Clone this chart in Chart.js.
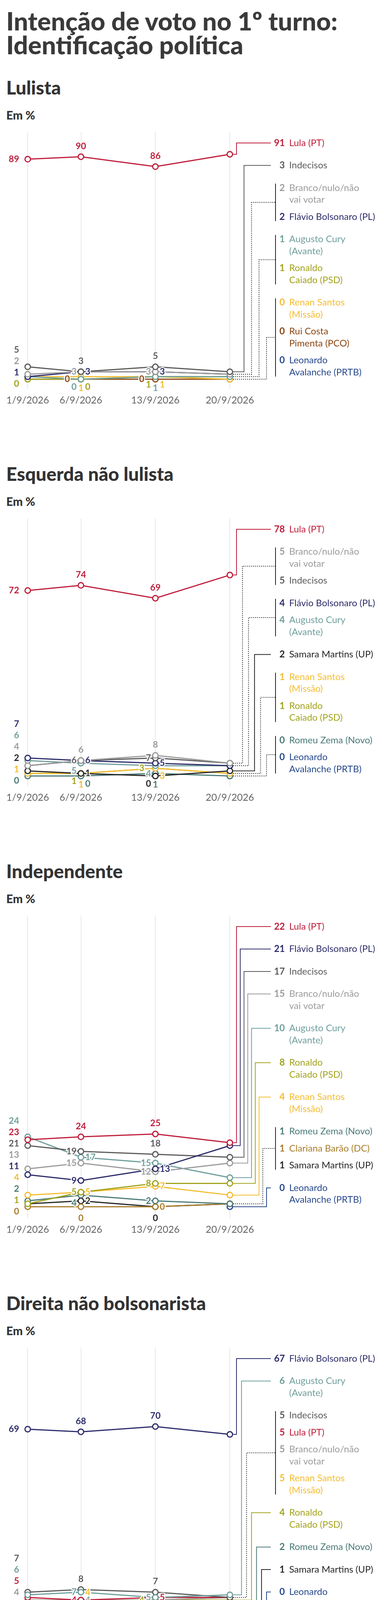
<!DOCTYPE html>
<html lang="pt-BR">
<head>
<meta charset="utf-8">
<title>Intenção de voto no 1º turno: Identificação política</title>
<script src="https://cdn.jsdelivr.net/npm/chart.js@4.4.1/dist/chart.umd.min.js"></script>
<style>
html,body{margin:0;padding:0;background:#fff;}
body{width:984px;font-family:Lato,'Noto Sans',sans-serif;color:#333;}
#title{margin:23px 0 0 16px;font-weight:900;font-size:65px;line-height:61px;color:#3a3a3a;}
.sec h2{margin:0 0 0 16px;font-weight:900;font-size:48px;line-height:50px;color:#333;}
.sec .em{margin:28px 0 0 16px;font-weight:900;font-size:30px;line-height:34px;color:#333;}
.sec canvas{display:block;margin-top:17px;}
#s0{margin-top:54px;}
.sec + .sec{margin-top:134px;}
#note{margin:116px 0 0 16px;font-size:28px;line-height:36.5px;color:#777;}
#band{margin-top:32px;height:115px;background:#f2f2f2;position:relative;}
#logo{position:absolute;left:14px;top:4px;font-weight:900;font-size:70px;line-height:90px;color:#c4170c;letter-spacing:-4px;}
.src{position:absolute;left:97px;font-size:31px;line-height:40px;color:#888;}
.src b{color:#666;font-weight:700;}
#src1{top:15px;}
#src2{top:59px;}
</style>
</head>
<body>
<div id="title">Intenção de voto no 1º turno:<br>Identificação política</div>
<div id="charts"></div>
<div id="note">Pesquisa realizada entre os dias 17 e 20 de setembro. A margem<br>de erro é de 5 pontos percentuais para lulista, de 6 pontos para<br>esquerda não lulista, de 4 pontos para independente, de 5 pontos<br>para direita não bolsonarista, e de 6 pontos para bolsonarista.</div>
<div id="band">
  <div id="logo">g1</div>
  <div class="src" id="src1"><b>Fonte:</b> Quaest</div>
  <div class="src" id="src2"><b>Infográfico elaborado em:</b> 21/09/2026</div>
</div>
<script>
// ---------- DATA ----------
const dates = ['1/9/2026', '6/9/2026', '13/9/2026', '20/9/2026'];
const days = [1, 6, 13, 20];

const lulistaNames = ['Lula', 'Indecisos', 'Branco', 'Flavio', 'Augusto', 'Ronaldo', 'Renan', 'Rui', 'Leonardo'];
const lulistaValues = [
  [89, 90, 86, 91],
  [5, 3, 5, 3],
  [2, 3, 3, 2],
  [1, 3, 3, 2],
  [1, 0, 1, 1],
  [0, 0, 1, 1],
  [1, 1, 1, 0],
  [0, 0, 0, 0],
  [null, null, null, 0]
];

const esquerdaNames = ['Lula', 'Branco', 'Indecisos', 'Flavio', 'Augusto', 'Samara', 'Renan', 'Ronaldo', 'Romeu', 'Leonardo'];
const esquerdaValues = [
  [72, 74, 69, 78],
  [4, 6, 8, 5],
  [4, 6, 7, 5],
  [7, 6, 5, 4],
  [6, 5, 4, 4],
  [2, 1, 0, 2],
  [1, 1, 3, 1],
  [1, 1, 3, 1],
  [0, 0, 1, 0],
  [null, null, null, 0]
];

const independenteNames = ['Lula', 'Flavio', 'Indecisos', 'Branco', 'Augusto', 'Ronaldo', 'Renan', 'Romeu', 'Clariana', 'Samara', 'Leonardo'];
const independenteValues = [
  [23, 24, 25, 22],
  [11, 9, 13, 21],
  [21, 19, 18, 17],
  [13, 15, 12, 15],
  [24, 17, 15, 10],
  [1, 5, 8, 8],
  [4, 5, 7, 4],
  [2, 4, 2, 1],
  [0, 0, 0, 1],
  [1, 2, 0, 1],
  [null, null, null, 0]
];

const direitaNames = ['Flavio', 'Augusto', 'Indecisos', 'Lula', 'Branco', 'Renan', 'Ronaldo', 'Romeu', 'Samara', 'Leonardo'];
const direitaValues = [
  [69, 68, 70, 67],
  [6, 7, 5, 6],
  [7, 8, 7, 5],
  [5, 4, 5, 5],
  [4, 4, 4, 5],
  [4, 4, 4, 5],
  [2, 3, 4, 4],
  [2, 1, 1, 2],
  [0, 0, 0, 1],
  [null, null, null, 0]
];

const bolsonaristaNames = ['Flavio', 'Branco', 'Lula', 'Augusto', 'Indecisos', 'Ronaldo', 'Renan', 'Romeu', 'Samara', 'Wilson', 'Leonardo'];
const bolsonaristaValues = [
  [85, 90, 90, 90],
  [2, 1, 4, 3],
  [2, 2, 1, 3],
  [0, 1, 0, 2],
  [1, 4, 3, 1],
  [1, 0, 1, 1],
  [5, 1, 1, 0],
  [0, 1, 0, 0],
  [1, 0, 0, 0],
  [null, 0, 0, 0],
  [null, null, null, 0]
];

const sectionTitles = ['Lulista', 'Esquerda não lulista', 'Independente', 'Direita não bolsonarista', 'Bolsonarista'];

const candidateText = {
  Lula: ['Lula (PT)'],
  Indecisos: ['Indecisos'],
  Branco: ['Branco/nulo/não', 'vai votar'],
  Flavio: ['Flávio Bolsonaro (PL)'],
  Augusto: ['Augusto Cury', '(Avante)'],
  Ronaldo: ['Ronaldo', 'Caiado (PSD)'],
  Renan: ['Renan Santos', '(Missão)'],
  Rui: ['Rui Costa', 'Pimenta (PCO)'],
  Leonardo: ['Leonardo', 'Avalanche (PRTB)'],
  Samara: ['Samara Martins (UP)'],
  Romeu: ['Romeu Zema (Novo)'],
  Clariana: ['Clariana Barão (DC)'],
  Wilson: ['Wilson Grassi', '(Democrata)']
};

// ---------- STYLE ----------
const candidateColors = {
  Lula: '#bf1e3b',
  Flavio: '#2d2c6b',
  Indecisos: '#5b5b5b',
  Branco: '#9b9b9b',
  Augusto: '#6f9f9c',
  Ronaldo: '#a2a31c',
  Renan: '#f4bd31',
  Rui: '#8b4611',
  Leonardo: '#27498c',
  Samara: '#262626',
  Romeu: '#4a7b77',
  Clariana: '#a97d2c',
  Wilson: '#3e9f69'
};

const FONT = 'Lato';
const LH = 30.5, GAP_SEP = 57.5, GAP_IN = 43.5;
const COL_X_MIN = 606, COL_X_MAX = 683;
const NUM_X = 730, TXT_X = 741, BAR_X = 706, SOLID_END_X = 694;
const PAD_TOP = 10, AXIS_H = 44, Y_MIN = -4;

const sections = [
  { title: sectionTitles[0], names: lulistaNames, values: lulistaValues },
  { title: sectionTitles[1], names: esquerdaNames, values: esquerdaValues },
  { title: sectionTitles[2], names: independenteNames, values: independenteValues },
  { title: sectionTitles[3], names: direitaNames, values: direitaValues },
  { title: sectionTitles[4], names: bolsonaristaNames, values: bolsonaristaValues }
];

function layoutColumn(names, values) {
  const groups = [];
  names.forEach((n, i) => {
    const v = values[i][values[i].length - 1];
    const g = groups[groups.length - 1];
    if (g && g.value === v) g.items.push({ n, i });
    else groups.push({ value: v, items: [{ n, i }] });
  });
  let y = 0, prevLines = 1, first = true;
  groups.forEach(g => {
    g.items.forEach((it, k) => {
      const lines = candidateText[it.n].length;
      if (!first) y += (prevLines - 1) * LH + (k === 0 ? GAP_SEP : GAP_IN);
      first = false;
      it.y = y; it.lines = lines; prevLines = lines;
    });
    const last = g.items[g.items.length - 1];
    g.top = g.items[0].y - 11;
    g.bottom = last.y + (last.lines - 1) * LH + 11;
  });
  return { groups, span: y + (prevLines - 1) * LH };
}

const META = {};

function drawText(ctx, t, x, y, color, align) {
  ctx.textAlign = align;
  ctx.strokeStyle = '#fff';
  ctx.lineWidth = 5;
  ctx.strokeText(t, x, y);
  ctx.fillStyle = color;
  ctx.fillText(t, x, y);
}

function boxHitsCircle(b, cx, cy, r) {
  const nx = Math.max(b.x1, Math.min(cx, b.x2));
  const ny = Math.max(b.y1, Math.min(cy, b.y2));
  return (nx - cx) * (nx - cx) + (ny - cy) * (ny - cy) < r * r;
}

const endLabelsPlugin = {
  id: 'endLabels',
  beforeDatasetsDraw(chart) {
    const meta = META[chart.canvas.id];
    const { ctx, chartArea } = chart;
    const xs = chart.scales.x, ys = chart.scales.y;
    const px = xs.getPixelForValue(days[days.length - 1]);
    const groups = meta.col.groups;
    const nG = groups.length;
    ctx.save();
    ctx.lineJoin = 'miter';
    groups.forEach((g, gi) => {
      const xv = COL_X_MIN + (nG > 1 ? gi * (COL_X_MAX - COL_X_MIN) / (nG - 1) : 0);
      const py = ys.getPixelForValue(g.value);
      ctx.beginPath();
      if (g.items.length === 1) {
        const it = g.items[0];
        const ly = chartArea.top + 28 + it.y;
        ctx.setLineDash([]);
        ctx.strokeStyle = candidateColors[it.n];
        ctx.lineWidth = 2;
        ctx.moveTo(px, py); ctx.lineTo(xv, py); ctx.lineTo(xv, ly); ctx.lineTo(SOLID_END_X, ly);
      } else {
        const mid = chartArea.top + 28 + (g.top + g.bottom) / 2;
        ctx.setLineDash([2, 3]);
        ctx.strokeStyle = '#111';
        ctx.lineWidth = 2;
        ctx.moveTo(px + 9, py); ctx.lineTo(xv, py); ctx.lineTo(xv, mid); ctx.lineTo(BAR_X, mid);
      }
      ctx.stroke();
    });
    ctx.restore();
  },
  afterDatasetsDraw(chart) {
    const meta = META[chart.canvas.id];
    const { ctx, chartArea } = chart;
    const xs = chart.scales.x, ys = chart.scales.y;
    ctx.save();
    // end labels column
    ctx.textBaseline = 'middle';
    meta.col.groups.forEach(g => {
      if (g.items.length > 1) {
        ctx.beginPath();
        ctx.setLineDash([]);
        ctx.strokeStyle = '#222';
        ctx.lineWidth = 2;
        ctx.moveTo(BAR_X, chartArea.top + 28 + g.top);
        ctx.lineTo(BAR_X, chartArea.top + 28 + g.bottom);
        ctx.stroke();
      }
      g.items.forEach(it => {
        const ly = chartArea.top + 28 + it.y;
        const c = candidateColors[it.n];
        ctx.fillStyle = c;
        ctx.font = `700 24px ${FONT}`;
        ctx.textAlign = 'right';
        ctx.fillText(String(g.value), NUM_X, ly);
        ctx.font = `400 24px ${FONT}`;
        ctx.textAlign = 'left';
        candidateText[it.n].forEach((line, li) => ctx.fillText(line, TXT_X, ly + li * LH));
      });
    });
    // point value labels
    ctx.font = `700 23px ${FONT}`;
    ctx.lineJoin = 'round';
    const zeroY = ys.getPixelForValue(0);
    for (let j = 0; j < days.length - 1; j++) {
      const px = xs.getPixelForValue(days[j]);
      let items = [];
      meta.names.forEach((n, i) => {
        const v = meta.values[i][j];
        if (v === null || v === undefined) return;
        items.push({ n, i, v, py: ys.getPixelForValue(v), color: candidateColors[n] });
      });
      if (j === 0) {
        const seen = new Set();
        items = items.filter(it => { if (seen.has(it.v)) return false; seen.add(it.v); return true; });
        items.sort((a, b) => b.py - a.py);
        const yy = items.map(it => it.py);
        const S = 29, bound = zeroY + 12;
        for (let pass = 0; pass < 400; pass++) {
          for (let k = 1; k < yy.length; k++) {
            const gap = yy[k - 1] - yy[k];
            if (gap < S) { const d = (S - gap) / 2; yy[k - 1] += d; yy[k] -= d; }
          }
          if (yy.length && yy[0] > bound) yy[0] = bound;
        }
        items.forEach((it, k) => drawText(ctx, String(it.v), px - 22, yy[k], it.color, 'right'));
      } else {
        const placed = [];
        const circles = items.map(it => it.py);
        items.sort((a, b) => (a.v === b.v ? a.i - b.i : b.v - a.v));
        items.forEach(it => {
          const t = String(it.v);
          const w = ctx.measureText(t).width, h = 18;
          const dx = 11 + w / 2;
          const cands = [[0, -27], [-dx, 0], [dx, 0], [0, 29], [-dx, -20], [dx, -20], [-dx, 20], [dx, 20],
            [-dx - w - 4, 0], [dx + w + 4, 0], [-dx - w - 4, 24], [dx + w + 4, 24], [0, 0]];
          const boxOf = c => ({ x1: px + c[0] - w / 2 - 1, x2: px + c[0] + w / 2 + 1, y1: it.py + c[1] - h / 2 - 1, y2: it.py + c[1] + h / 2 + 1 });
          let chosen = cands[cands.length - 1];
          for (let ci = 0; ci < cands.length - 1; ci++) {
            const b = boxOf(cands[ci]);
            if (placed.some(p => p.x1 < b.x2 && b.x1 < p.x2 && p.y1 < b.y2 && b.y1 < p.y2)) continue;
            if (circles.some(cy => boxHitsCircle(b, px, cy, 9.5))) continue;
            chosen = cands[ci];
            break;
          }
          placed.push(boxOf(chosen));
          drawText(ctx, t, px + chosen[0], it.py + chosen[1], it.color, 'center');
        });
      }
    }
    ctx.restore();
  }
};

const chartsDiv = document.getElementById('charts');
sections.forEach((sec, si) => {
  const wrap = document.createElement('div');
  wrap.className = 'sec';
  wrap.id = 's' + si;
  const h = document.createElement('h2');
  h.textContent = sec.title;
  const em = document.createElement('div');
  em.className = 'em';
  em.textContent = 'Em %';
  const cv = document.createElement('canvas');
  cv.id = 'c' + si;
  wrap.appendChild(h); wrap.appendChild(em); wrap.appendChild(cv);
  chartsDiv.appendChild(wrap);

  const col = layoutColumn(sec.names, sec.values);
  const P = col.span + 59;
  const H = P * (100 - Y_MIN) / 100;
  const ch = Math.round(PAD_TOP + H + AXIS_H);
  cv.width = 984; cv.height = ch;
  cv.style.width = '984px'; cv.style.height = ch + 'px';
  META[cv.id] = { col, names: sec.names, values: sec.values };

  new Chart(cv, {
    type: 'line',
    data: {
      datasets: sec.names.map((n, i) => ({
        label: n,
        data: days.map((d, j) => ({ x: d, y: sec.values[i][j] })),
        borderColor: candidateColors[n],
        backgroundColor: '#fff',
        pointBackgroundColor: '#fff',
        pointBorderColor: candidateColors[n],
        borderWidth: 3,
        pointRadius: 7,
        pointHoverRadius: 7,
        pointBorderWidth: 3,
        tension: 0,
        spanGaps: false,
        clip: false
      }))
    },
    options: {
      responsive: false,
      animation: false,
      devicePixelRatio: 1,
      events: [],
      layout: { padding: { left: 71, right: 395, top: PAD_TOP, bottom: 0 } },
      plugins: { legend: { display: false }, tooltip: { enabled: false } },
      scales: {
        x: {
          type: 'linear', min: days[0], max: days[days.length - 1],
          afterBuildTicks: s => { s.ticks = days.map(v => ({ value: v })); },
          ticks: {
            callback: (v, idx) => dates[idx],
            font: { family: FONT, size: 25 }, color: '#666', padding: 14,
            maxRotation: 0, autoSkip: false
          },
          grid: { color: '#e2e2e2', lineWidth: 1.5, drawTicks: false },
          border: { display: false }
        },
        y: { display: false, min: Y_MIN, max: 100 }
      }
    },
    plugins: [endLabelsPlugin]
  });
});
</script>
</body>
</html>
